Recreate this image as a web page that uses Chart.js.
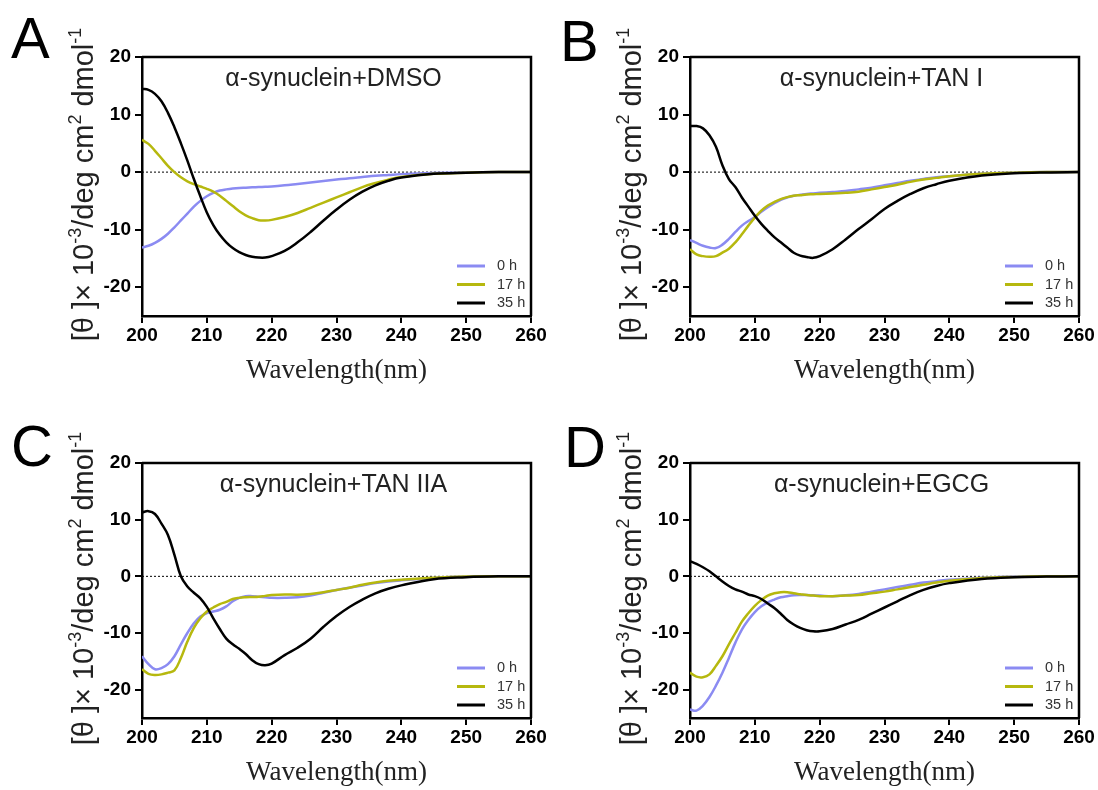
<!DOCTYPE html>
<html>
<head>
<meta charset="utf-8">
<script src="https://cdn.jsdelivr.net/npm/chart.js@4.4.0/dist/chart.umd.min.js"></script>
<style>
  body { margin: 0; background: #fff; }
  .panel { position: absolute; width: 549px; height: 395px; }
</style>
</head>
<body>
<div class="panel" style="left:0;top:0"><canvas id="chartA" width="549" height="395"></canvas></div>
<div class="panel" style="left:549px;top:0"><canvas id="chartB" width="549" height="395"></canvas></div>
<div class="panel" style="left:0;top:395px"><canvas id="chartC" width="549" height="395"></canvas></div>
<div class="panel" style="left:549px;top:395px"><canvas id="chartD" width="549" height="395"></canvas></div>
<script>
// wavelength (nm) shared by all panels
const waves = [200,201,202,203,204,205,206,207,208,209,210,211,212,213,214,215,216,217,218,219,220,
               222,224,226,228,230,232,234,236,238,240,245,250,255,260];
const xTicks = [200,210,220,230,240,250,260];
const yTicks = [-20,-10,0,10,20];
const seriesLabels = ["0 h","17 h","35 h"];
const seriesColors = ["#8b8bf2","#b6b80e","#000000"];

// A: DMSO
const a0  = [-13.1,-12.8,-12.3,-11.6,-10.7,-9.6,-8.4,-7.2,-6.0,-5.0,-4.2,-3.6,-3.2,-3.0,-2.85,-2.75,-2.7,-2.65,-2.6,-2.55,-2.5,
             -2.3,-2.05,-1.8,-1.55,-1.3,-1.05,-0.85,-0.65,-0.5,-0.35,-0.15,-0.05,0,0];
const a17 = [5.6,4.9,3.7,2.4,1.1,0,-0.9,-1.6,-2.1,-2.5,-2.9,-3.4,-4.1,-5.0,-5.9,-6.8,-7.5,-8.0,-8.35,-8.4,-8.3,
             -7.8,-7.1,-6.2,-5.3,-4.4,-3.5,-2.6,-1.9,-1.3,-0.85,-0.3,-0.1,0,0];
const a35 = [14.5,14.3,13.6,12.3,10.3,7.8,5.0,2.0,-1.2,-4.2,-7.0,-9.2,-10.9,-12.2,-13.2,-13.9,-14.4,-14.7,-14.85,-14.85,-14.6,
             -13.7,-12.2,-10.4,-8.4,-6.5,-4.8,-3.4,-2.3,-1.5,-0.95,-0.3,-0.1,0,0];
// B: TAN I
const b0  = [-11.8,-12.3,-12.8,-13.1,-13.2,-12.6,-11.6,-10.4,-9.3,-8.5,-7.8,-6.9,-6.1,-5.4,-4.8,-4.4,-4.1,-3.95,-3.8,-3.7,-3.6,
             -3.45,-3.3,-3.0,-2.7,-2.3,-1.9,-1.5,-1.2,-0.9,-0.7,-0.3,-0.1,0,0];
const b17 = [-13.4,-14.3,-14.6,-14.7,-14.6,-14.0,-13.3,-12.2,-10.8,-9.3,-7.9,-6.7,-5.8,-5.2,-4.7,-4.35,-4.1,-4.0,-3.9,-3.85,-3.8,
             -3.7,-3.6,-3.4,-3.0,-2.6,-2.2,-1.7,-1.3,-1.0,-0.7,-0.3,-0.1,0,0];
const b35 = [8.0,8.0,7.6,6.4,4.4,1.2,-1.2,-2.6,-4.4,-6.0,-7.6,-9.0,-10.2,-11.3,-12.2,-13.1,-14.0,-14.5,-14.75,-14.9,-14.6,
             -13.4,-11.7,-9.9,-8.2,-6.4,-5.0,-3.8,-2.8,-2.1,-1.5,-0.6,-0.2,-0.05,0];
// C: TAN IIA
const c0  = [-14.1,-15.5,-16.4,-16.2,-15.5,-14.1,-12.0,-10.0,-8.3,-7.1,-6.5,-6.2,-5.9,-5.3,-4.4,-3.8,-3.5,-3.5,-3.6,-3.7,-3.8,
             -3.8,-3.7,-3.4,-2.9,-2.4,-2.0,-1.6,-1.2,-0.9,-0.7,-0.3,-0.05,0,0];
const c17 = [-16.4,-17.2,-17.4,-17.3,-17.0,-16.6,-14.4,-11.5,-9.1,-7.4,-6.2,-5.5,-4.9,-4.5,-4.0,-3.8,-3.7,-3.65,-3.6,-3.45,-3.3,
             -3.2,-3.25,-3.1,-2.8,-2.4,-2.0,-1.5,-1.1,-0.8,-0.6,-0.25,-0.05,0,0];
const c35 = [11.3,11.5,11.0,9.3,7.3,3.8,0,-1.8,-2.9,-3.9,-5.4,-7.4,-9.3,-11.0,-12.0,-12.8,-13.7,-14.8,-15.5,-15.7,-15.4,
             -13.9,-12.6,-11.0,-8.9,-7.0,-5.4,-4.1,-3.0,-2.2,-1.6,-0.5,-0.15,0,0];
// D: EGCG
const d0  = [-23.5,-23.7,-22.8,-21.3,-19.3,-17.0,-14.4,-11.7,-9.4,-7.7,-6.3,-5.3,-4.6,-4.1,-3.7,-3.5,-3.35,-3.3,-3.3,-3.35,-3.4,
             -3.5,-3.35,-3.1,-2.7,-2.3,-1.9,-1.5,-1.1,-0.85,-0.6,-0.25,-0.05,0,0];
const d17 = [-17.0,-17.7,-17.8,-17.3,-15.8,-14.1,-12.0,-10.0,-8.0,-6.5,-5.2,-4.2,-3.4,-3.0,-2.8,-2.8,-3.0,-3.15,-3.3,-3.4,-3.5,
             -3.5,-3.4,-3.3,-3.0,-2.7,-2.3,-1.9,-1.5,-1.1,-0.8,-0.3,-0.1,0,0];
const d35 = [2.7,2.2,1.6,0.9,0,-0.9,-1.7,-2.3,-2.7,-3.2,-3.5,-4.0,-4.8,-5.6,-6.6,-7.7,-8.5,-9.1,-9.5,-9.7,-9.7,
             -9.3,-8.5,-7.7,-6.6,-5.5,-4.4,-3.3,-2.4,-1.7,-1.2,-0.45,-0.15,-0.05,0];

const FONT = "Arial, 'Liberation Sans', sans-serif";
const SERIF = "'Times New Roman', 'Liberation Serif', serif";

// draws box, zero line, inner title, legend, letter and axis titles
const decor = {
  id: "decor",
  beforeDatasetsDraw(chart) {
    let ctx = chart.ctx;
    let a = chart.chartArea;
    let y0 = chart.scales.y.getPixelForValue(0);
    ctx.save();
    ctx.strokeStyle = "#000";
    ctx.lineWidth = 1;
    ctx.setLineDash([2, 2]);
    ctx.beginPath();
    ctx.moveTo(a.left, y0);
    ctx.lineTo(a.right, y0);
    ctx.stroke();
    ctx.restore();
  },
  afterDraw(chart, args, opts) {
    let ctx = chart.ctx;
    let a = chart.chartArea;
    ctx.save();
    // top and right frame
    ctx.strokeStyle = "#000";
    ctx.lineWidth = 2.5;
    ctx.beginPath();
    ctx.moveTo(a.left, a.top);
    ctx.lineTo(a.right, a.top);
    ctx.lineTo(a.right, a.bottom);
    ctx.stroke();

    ctx.fillStyle = "#000";
    // panel letter
    ctx.font = "58px " + FONT;
    ctx.textAlign = "left";
    ctx.textBaseline = "alphabetic";
    ctx.fillText(opts.letter, opts.letterX, opts.letterY);

    // inner title
    ctx.font = "25px " + FONT;
    ctx.textAlign = "center";
    ctx.textBaseline = "middle";
    ctx.fillStyle = "#222";
    ctx.fillText(opts.title, (a.left + a.right) / 2 - 3, a.top + 22);

    // legend
    ctx.font = "14.5px " + FONT;
    ctx.textAlign = "left";
    let ds = chart.data.datasets;
    for (let i = 0; i < ds.length; i++) {
      let ly = a.bottom - 50 + i * 18.5;
      ctx.strokeStyle = ds[i].borderColor;
      ctx.lineWidth = 3;
      ctx.beginPath();
      ctx.moveTo(a.right - 74, ly);
      ctx.lineTo(a.right - 46, ly);
      ctx.stroke();
      ctx.fillStyle = "#333";
      ctx.fillText(ds[i].label, a.right - 34, ly);
    }

    // x axis title
    ctx.fillStyle = "#222";
    ctx.font = "27px " + SERIF;
    ctx.textAlign = "center";
    ctx.textBaseline = "alphabetic";
    ctx.fillText("Wavelength(nm)", (a.left + a.right) / 2, a.bottom + 62);

    // y axis title with superscripts
    let size = 29;
    let parts = [["[\u03b8 ]\u00d7 10", 0], ["-3", 1], ["/deg cm", 0], ["2", 1], [" dmol", 0], ["-1", 1]];
    let total = 0;
    parts.forEach(p => {
      ctx.font = (p[1] ? Math.round(size * 0.62) : size) + "px " + FONT;
      total += ctx.measureText(p[0]).width;
    });
    ctx.translate(a.left - 49, (a.top + a.bottom) / 2 - 2);
    ctx.rotate(-Math.PI / 2);
    ctx.textAlign = "left";
    let px = -total / 2;
    parts.forEach(p => {
      ctx.font = (p[1] ? Math.round(size * 0.62) : size) + "px " + FONT;
      ctx.fillText(p[0], px, p[1] ? -size * 0.42 : 0);
      px += ctx.measureText(p[0]).width;
    });
    ctx.restore();
  }
};

function makePanel(id, values, title, letter, letterX, letterY, box) {
  let datasets = [];
  for (let i = 0; i < values.length; i++) {
    datasets.push({
      label: seriesLabels[i],
      data: waves.map((w, k) => ({ x: w, y: values[i][k] })),
      borderColor: seriesColors[i],
      borderWidth: 2.5,
      pointRadius: 0,
      tension: 0.4,
      fill: false,
      order: 3 - i
    });
  }
  new Chart(document.getElementById(id), {
    type: "line",
    data: { datasets: datasets },
    plugins: [decor],
    options: {
      responsive: false,
      animation: false,
      devicePixelRatio: 1,
      layout: { padding: { left: 0, top: box.top, right: box.right, bottom: 0 } },
      plugins: {
        legend: { display: false },
        tooltip: { enabled: false },
        decor: { title: title, letter: letter, letterX: letterX, letterY: letterY }
      },
      scales: {
        x: {
          type: "linear",
          min: 200,
          max: 260,
          afterBuildTicks: s => { s.ticks = xTicks.map(v => ({ value: v })); },
          afterFit: s => { s.height = box.xh; },
          ticks: { color: "#000", font: { family: FONT, size: 19, weight: "bold" }, padding: 1, maxRotation: 0 },
          grid: { drawOnChartArea: false, color: "#000", lineWidth: 2, tickLength: 7 },
          border: { color: "#000", width: 2.5 }
        },
        y: {
          min: -25,
          max: 20,
          afterBuildTicks: s => { s.ticks = yTicks.map(v => ({ value: v })); },
          afterFit: s => { s.width = box.yw; },
          ticks: { color: "#000", font: { family: FONT, size: 19, weight: "bold" }, padding: 4 },
          grid: { drawOnChartArea: false, color: "#000", lineWidth: 2, tickLength: 7 },
          border: { color: "#000", width: 2.5 }
        }
      }
    }
  });
}

makePanel("chartA", [a0, a17, a35], "\u03b1-synuclein+DMSO", "A", 11, 58, { top: 57, right: 18, xh: 79, yw: 142 });
makePanel("chartB", [b0, b17, b35], "\u03b1-synuclein+TAN I", "B", 11, 61, { top: 57, right: 19, xh: 79, yw: 141 });
makePanel("chartC", [c0, c17, c35], "\u03b1-synuclein+TAN IIA", "C", 11, 71, { top: 68, right: 18, xh: 72, yw: 142 });
makePanel("chartD", [d0, d17, d35], "\u03b1-synuclein+EGCG", "D", 15, 72, { top: 68, right: 19, xh: 72, yw: 141 });
</script>
</body>
</html>
